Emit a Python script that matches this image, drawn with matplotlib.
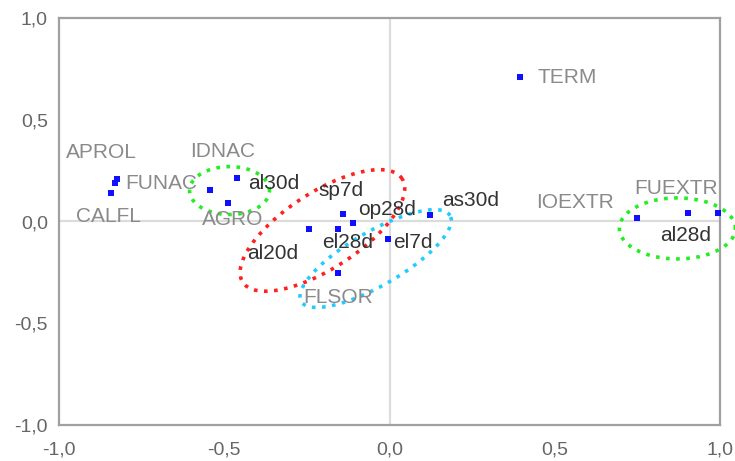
import numpy as np
import matplotlib
matplotlib.use("Agg")
import matplotlib.pyplot as plt

# ---- data ----
var_names = ["TERM", "FUNAC", "APROL", "CALFL", "IDNAC", "", "AGRO",
             "", "", "", "", "", "", "FLSOR", "IOEXTR", "FUEXTR", ""]
var_x = [0.396, -0.823, -0.830, -0.844, -0.460, -0.542, -0.490,
         -0.142, -0.109, -0.245, -0.157, -0.006, 0.124, -0.157, 0.750, 0.902, 0.995]
var_y = [0.709, 0.207, 0.190, 0.138, 0.212, 0.153, 0.089,
         0.039, -0.005, -0.039, -0.039, -0.084, 0.034, -0.251, 0.015, 0.044, 0.044]

sample_names = ["al30d", "sp7d", "op28d", "as30d", "al20d", "el28d", "el7d", "al28d"]
sample_x = [-0.351, -0.148, -0.006, 0.245, -0.354, -0.127, 0.070, 0.896]
sample_y = [0.187, 0.153, 0.059, 0.103, -0.158, -0.103, -0.103, -0.069]

# groups: centre x, centre y, semi-axis a, semi-axis b (screen-isotropic, x units), angle deg
group_cx = [-0.484, -0.203, -0.042, 0.871]
group_cy = [0.152, -0.044, -0.182, -0.034]
group_a = [0.121, 0.2875, 0.260, 0.1755]
group_b = [0.0726, 0.115, 0.0817, 0.0923]
group_ang = [0, 33, 30, 0]
group_col = ["#22ee22", "#ff2020", "#22ccff", "#22ee22"]

ticks = [-1.0, -0.5, 0.0, 0.5, 1.0]
tick_labels = ["-1,0", "-0,5", "0,0", "0,5", "1,0"]

# label offsets (pixels) and alignment for variable labels
lab_off = [(17, 0, "left"), (8, -4, "left"), (-14, 30, "center"), (-2, -23, "center"),
           (-15, 27, "center"), (0, 0, "center"), (5, -16, "center"),
           (0, 0, "center"), (0, 0, "center"), (0, 0, "center"), (0, 0, "center"),
           (0, 0, "center"), (0, 0, "center"), (1, -25, "center"), (-62, 16, "center"),
           (-12, 24, "center"), (0, 0, "center")]

plt.rcParams['font.family'] = ['Liberation Sans', 'DejaVu Sans']

fig = plt.figure(figsize=(7.35, 4.61), dpi=100)
ax = fig.add_axes([59/735, 36/461, 661/735, 407/461])
ax.set_xlim(-1, 1)
ax.set_ylim(-1, 1)

for s in ax.spines.values():
    s.set_color("#a0a0a0")
    s.set_linewidth(1.6)

ax.axhline(0, color="#dcdcdc", lw=1.6, zorder=0)
ax.axvline(0, color="#dcdcdc", lw=1.6, zorder=0)

ax.set_xticks(ticks)
ax.set_xticklabels(tick_labels)
ax.set_yticks(ticks)
ax.set_yticklabels(tick_labels)
ax.tick_params(axis="both", length=0, labelsize=14, labelcolor="#666666")
ax.tick_params(axis="x", pad=12)
ax.tick_params(axis="y", pad=8)

# ellipses
ratio = (661 / 2.0) / (407 / 2.0)
t = np.linspace(0, 2 * np.pi, 400)
for cx, cy, a, b, ang, col in zip(group_cx, group_cy, group_a, group_b, group_ang, group_col):
    th = np.deg2rad(ang)
    u = a * np.cos(t)
    v = b * np.sin(t)
    xr = u * np.cos(th) - v * np.sin(th)
    yr = u * np.sin(th) + v * np.cos(th)
    ax.plot(cx + xr, cy + yr * ratio, color=col, lw=2.6,
            linestyle=(0, (1.0, 1.8)), clip_on=False, zorder=3)

# variable points
ax.plot(var_x, var_y, linestyle="none", marker="s", markersize=4.5,
        color="#1010ff", markeredgewidth=0, zorder=4)
for name, x, y, (dx, dy, ha) in zip(var_names, var_x, var_y, lab_off):
    if name:
        ax.annotate(name, (x, y), xytext=(dx, dy), textcoords="offset pixels",
                    ha=ha, va="center", fontsize=15, color="#8a8a8a", zorder=5)

# sample labels
for name, x, y in zip(sample_names, sample_x, sample_y):
    ax.text(x, y, name, ha="center", va="center", fontsize=15,
            color="#333333", zorder=5)

fig.savefig("out.png", dpi=100)
